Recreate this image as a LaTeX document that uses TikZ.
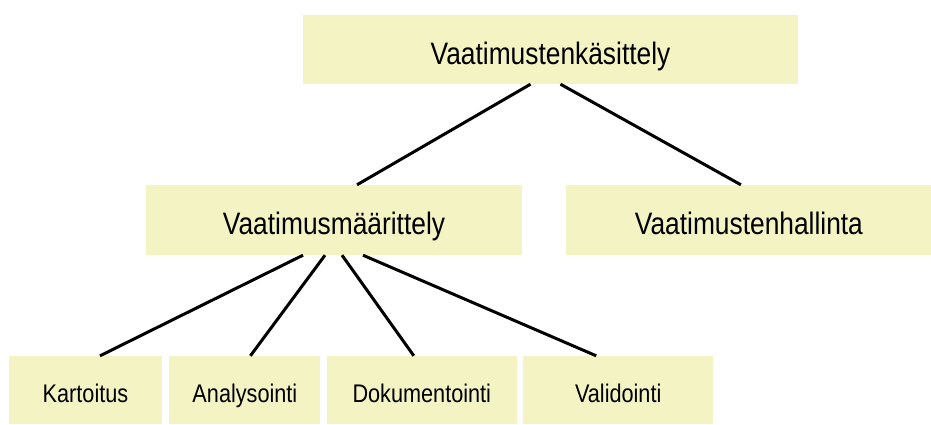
\documentclass[tikz,border=0pt]{standalone}
\usepackage{fontspec}
\setmainfont{Liberation Sans}[FakeStretch=0.85]
\usepackage{tikz}
\usetikzlibrary{positioning}
\usepackage{xcolor}
\definecolor{reqyellow}{RGB}{243,243,196}
\tikzstyle{link} = [line width=3pt,color=black]
\tikzstyle{bigbox} = [rectangle, minimum height=70pt, text centered, fill=reqyellow, inner sep=0pt, text height=32pt, text depth=3pt, font=\fontsize{31}{36}\selectfont]
\tikzstyle{smallbox} = [rectangle, minimum height=68pt, text centered, fill=reqyellow, inner sep=0pt, text height=28pt, text depth=2.6pt, font=\fontsize{25.5}{30}\selectfont]

\begin{document}
\begin{tikzpicture}[x=1pt,y=1pt]
\useasboundingbox (0,0) rectangle (931,-424);
% Top level
\node[bigbox, minimum width=495pt, minimum height=69pt] (top) at (550.5,-49.5) {Vaatimustenkäsittely};
% Second level
\node[bigbox, minimum width=376pt] (midleft) at (334,-220) {Vaatimusmäärittely};
\node[bigbox, minimum width=365pt, right=44pt of midleft] (midright) {Vaatimustenhallinta};
% Third level
\node[smallbox, minimum width=153pt] (kart) at (85.5,-390) {Kartoitus};
\node[smallbox, minimum width=151pt, right=7pt of kart] (anal) {Analysointi};
\node[smallbox, minimum width=190pt, right=6pt of anal] (doku) {Dokumentointi};
\node[smallbox, minimum width=190pt, right=6pt of doku] (vali) {Validointi};

\draw[link] ([xshift=-20pt]top.south) -- ([xshift=23pt]midleft.north);
\draw[link] ([xshift=10pt]top.south) -- ([xshift=-8pt]midright.north);
\draw[link] ([xshift=-31pt]midleft.south) -- ([xshift=14.5pt]kart.north);
\draw[link] ([xshift=-9pt]midleft.south) -- ([xshift=5.5pt]anal.north);
\draw[link] ([xshift=8pt]midleft.south) -- ([xshift=-8pt]doku.north);
\draw[link] ([xshift=29pt]midleft.south) -- ([xshift=-22pt]vali.north);
\end{tikzpicture}
\end{document}
